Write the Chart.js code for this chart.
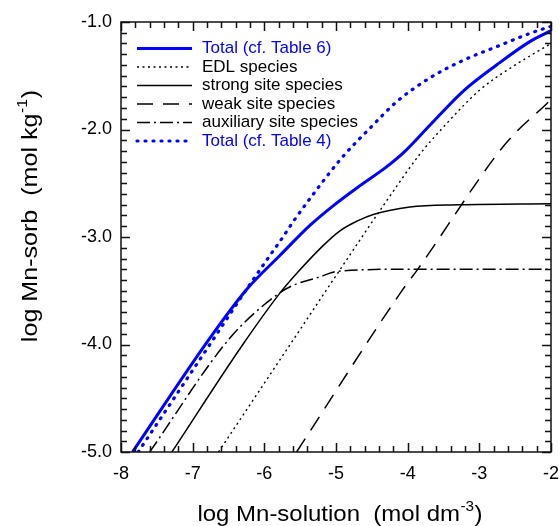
<!DOCTYPE html>
<html>
<head>
<meta charset="utf-8">
<script src="https://cdn.jsdelivr.net/npm/chart.js@4/dist/chart.umd.min.js"></script>
<style>
  html, body { margin: 0; padding: 0; background: #fff; }
  #wrap { width: 559px; height: 526px; }
</style>
</head>
<body>
<div id="wrap"><canvas id="c" width="559" height="526"></canvas></div>
<script>
// ---- Data ----
const seriesLabels = [
  "Total (cf. Table 6)",
  "EDL species",
  "strong site species",
  "weak site species",
  "auxiliary site species",
  "Total (cf. Table 4)"
];
const xTickValues = [-8, -7, -6, -5, -4, -3, -2];
const yTickValues = [-5.0, -4.0, -3.0, -2.0, -1.0];

const totalT6X = [-7.84, -6.76, -6.25, -5.78, -5.36, -5.04, -4.66, -4.30, -4.05, -3.69, -3.22, -2.76, -2.29, -2.0];
const totalT6Y = [-5.0, -3.94, -3.49, -3.17, -2.89, -2.71, -2.52, -2.35, -2.21, -1.96, -1.64, -1.40, -1.18, -1.08];

const edlX = [-6.64, -5.57, -4.99, -4.29, -3.83, -3.45, -2.99, -2.57, -2.0];
const edlY = [-5.0, -3.93, -3.35, -2.66, -2.23, -1.94, -1.63, -1.43, -1.20];

const strongX = [-7.29, -6.30, -5.78, -5.55, -5.18, -4.94, -4.70, -4.48, -3.97, -3.27, -2.0];
const strongY = [-5.0, -4.0, -3.52, -3.34, -3.08, -2.94, -2.85, -2.79, -2.72, -2.70, -2.69];

const weakX = [-5.55, -4.07, -3.87, -2.74, -2.48, -2.06, -2.0];
const weakY = [-5.0, -3.49, -3.31, -2.22, -2.02, -1.76, -1.72];

const auxX = [-7.60, -6.48, -5.83, -5.60, -5.22, -4.99, -4.0, -2.0];
const auxY = [-5.0, -3.94, -3.54, -3.45, -3.37, -3.32, -3.30, -3.30];

const totalT4X = [-7.76, -6.76, -6.18, -5.92, -5.74, -5.60, -5.36, -4.94, -4.53, -4.15, -3.69, -3.22, -2.76, -2.29, -2.0];
const totalT4Y = [-5.0, -4.0, -3.42, -3.17, -3.0, -2.86, -2.64, -2.28, -1.99, -1.74, -1.52, -1.355, -1.23, -1.105, -1.04];

function pts(xs, ys) { return xs.map((x, i) => ({ x: x, y: ys[i] })); }

const FONT = "'Liberation Sans', Arial, Helvetica, sans-serif";
const BLUE = "#0000ff";

const datasets = [
  { label: seriesLabels[0], data: pts(totalT6X, totalT6Y), borderColor: BLUE, borderWidth: 3, borderDash: [], textColor: BLUE, borderCapStyle: 'butt' },
  { label: seriesLabels[1], data: pts(edlX, edlY), borderColor: "#000", borderWidth: 1.4, borderDash: [2, 3.5], textColor: "#000", borderCapStyle: 'butt' },
  { label: seriesLabels[2], data: pts(strongX, strongY), borderColor: "#000", borderWidth: 1.5, borderDash: [], textColor: "#000", borderCapStyle: 'butt' },
  { label: seriesLabels[3], data: pts(weakX, weakY), borderColor: "#000", borderWidth: 1.5, borderDash: [16, 10], textColor: "#000", borderCapStyle: 'butt' },
  { label: seriesLabels[4], data: pts(auxX, auxY), borderColor: "#000", borderWidth: 1.5, borderDash: [13, 4, 2, 4], textColor: "#000", borderCapStyle: 'butt' },
  { label: seriesLabels[5], data: pts(totalT4X, totalT4Y), borderColor: BLUE, borderWidth: 3.2, borderDash: [1, 7], textColor: BLUE, borderCapStyle: 'round' }
].map(d => Object.assign(d, { showLine: true, pointRadius: 0, fill: false, cubicInterpolationMode: 'monotone' }));

// frame + inside ticks on all four sides
const framePlugin = {
  id: 'frame',
  afterDraw(chart) {
    const ctx = chart.ctx;
    const a = chart.chartArea;
    const xs = chart.scales.x, ys = chart.scales.y;
    ctx.save();
    ctx.setLineDash([]);
    ctx.strokeStyle = '#111';
    ctx.lineWidth = 1.5;
    ctx.lineCap = 'butt';
    for (let i = 0; i <= 30; i++) {
      const v = -8 + i * 0.2;
      const px = Math.round(xs.getPixelForValue(v)) + 0.5;
      const len = (i % 5 === 0) ? 9 : 6;
      ctx.beginPath();
      ctx.moveTo(px, a.bottom); ctx.lineTo(px, a.bottom - len);
      ctx.moveTo(px, a.top); ctx.lineTo(px, a.top + len);
      ctx.stroke();
    }
    for (let i = 0; i <= 40; i++) {
      const v = -5 + i * 0.1;
      const py = Math.round(ys.getPixelForValue(v)) + 0.5;
      const len = (i % 10 === 0) ? 9 : 6;
      ctx.beginPath();
      ctx.moveTo(a.left, py); ctx.lineTo(a.left + len, py);
      ctx.moveTo(a.right, py); ctx.lineTo(a.right - len, py);
      ctx.stroke();
    }
    ctx.lineWidth = 1.5;
    ctx.strokeRect(a.left, a.top, a.right - a.left, a.bottom - a.top);
    ctx.restore();
  }
};

// legend drawn inside the plot, top-left
const legendPlugin = {
  id: 'insideLegend',
  afterDatasetsDraw(chart) {
    const ctx = chart.ctx;
    ctx.save();
    ctx.font = "17px " + FONT;
    ctx.textBaseline = 'middle';
    chart.data.datasets.forEach((d, i) => {
      const yy = 48.5 + i * 18.5;
      ctx.beginPath();
      ctx.strokeStyle = d.borderColor;
      ctx.lineWidth = d.borderWidth;
      ctx.lineCap = d.borderCapStyle;
      ctx.setLineDash(d.borderDash);
      ctx.moveTo(137, yy); ctx.lineTo(192, yy);
      ctx.stroke();
      ctx.setLineDash([]);
      ctx.fillStyle = d.textColor;
      ctx.fillText(d.label, 202, yy);
    });
    ctx.restore();
  }
};

// axis titles with superscripts (slightly widened like the reference lettering)
function drawSupTitle(ctx, main, sup, tail, size, stretch) {
  ctx.scale(stretch, 1);
  ctx.font = size + "px " + FONT;
  const w1 = ctx.measureText(main).width;
  const w3 = ctx.measureText(tail).width;
  ctx.font = Math.round(size * 0.62) + "px " + FONT;
  const w2 = ctx.measureText(sup).width;
  const total = w1 + w2 + w3 + 1;
  let x0 = -total / 2;
  ctx.textAlign = 'left';
  ctx.textBaseline = 'alphabetic';
  ctx.font = size + "px " + FONT;
  ctx.fillText(main, x0, 0);
  ctx.font = Math.round(size * 0.62) + "px " + FONT;
  ctx.fillText(sup, x0 + w1 + 0.5, -size * 0.45);
  ctx.font = size + "px " + FONT;
  ctx.fillText(tail, x0 + w1 + w2 + 1, 0);
}
const titlePlugin = {
  id: 'titles',
  afterDraw(chart) {
    const ctx = chart.ctx;
    ctx.save();
    ctx.fillStyle = '#000';
    ctx.translate(340, 520.5);
    drawSupTitle(ctx, "log Mn-solution  (mol dm", "-3", ")", 22, 1.09);
    ctx.restore();
    ctx.save();
    ctx.fillStyle = '#000';
    ctx.translate(37, 216);
    ctx.rotate(-Math.PI / 2);
    drawSupTitle(ctx, "log Mn-sorb  (mol kg", "-1", ")", 22, 1.14);
    ctx.restore();
  }
};

new Chart(document.getElementById('c'), {
  type: 'scatter',
  data: { datasets: datasets },
  options: {
    responsive: false,
    animation: false,
    events: [],
    layout: { padding: { top: 22, right: 8, left: 0, bottom: 0 } },
    plugins: { legend: { display: false }, tooltip: { enabled: false }, title: { display: false } },
    scales: {
      x: {
        type: 'linear', min: -8, max: -2,
        afterFit(s) { s.height = 74; s.paddingLeft = 0; s.paddingRight = 0; },
        afterBuildTicks(s) { s.ticks = xTickValues.map(v => ({ value: v })); },
        grid: { display: false, drawTicks: false },
        border: { display: false },
        ticks: { color: '#000', padding: 11, font: { family: FONT, size: 18 }, callback: v => String(v), maxRotation: 0 }
      },
      y: {
        type: 'linear', min: -5, max: -1,
        afterFit(s) { s.width = 121; s.paddingTop = 0; s.paddingBottom = 0; },
        afterBuildTicks(s) { s.ticks = yTickValues.map(v => ({ value: v })); },
        grid: { display: false, drawTicks: false },
        border: { display: false },
        ticks: { color: '#000', padding: 9, font: { family: FONT, size: 18 }, callback: v => Number(v).toFixed(1) }
      }
    }
  },
  plugins: [framePlugin, legendPlugin, titlePlugin]
});
</script>
</body>
</html>
